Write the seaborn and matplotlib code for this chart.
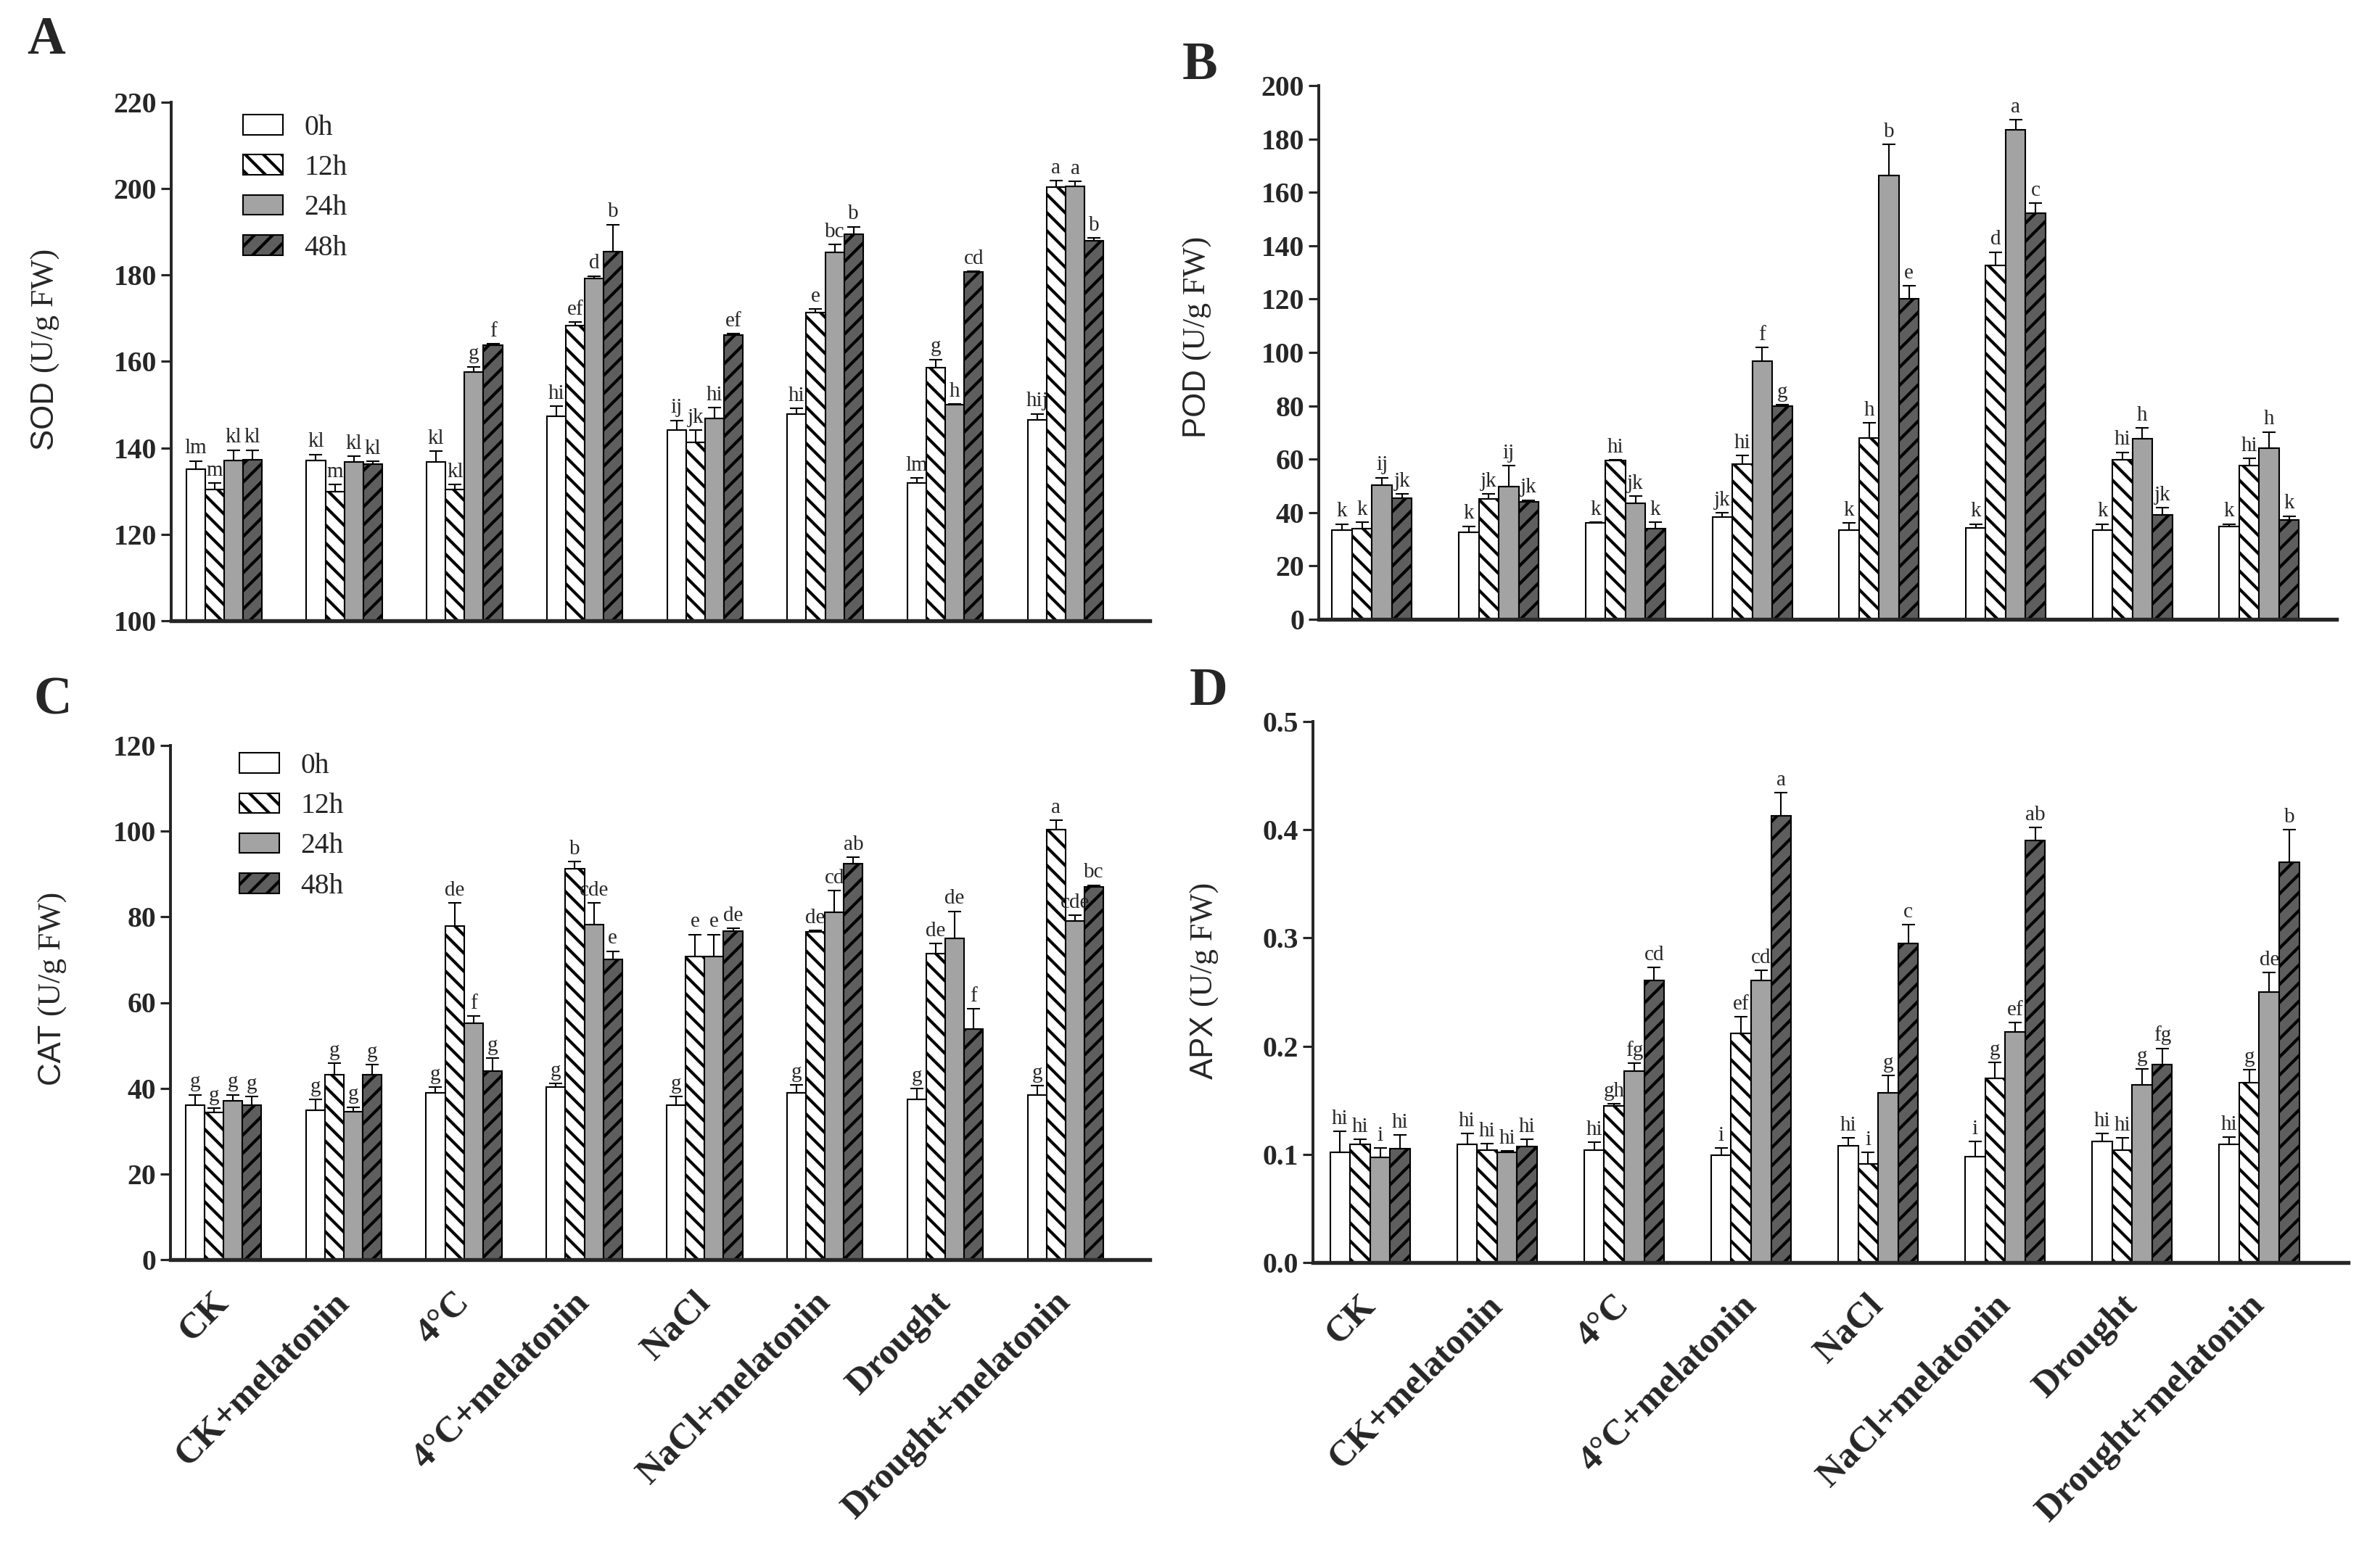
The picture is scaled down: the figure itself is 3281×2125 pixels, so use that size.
import numpy as np
import pandas as pd
import matplotlib
matplotlib.use("Agg")
import matplotlib.pyplot as plt
import matplotlib.text as mtext
import seaborn as sns
from matplotlib.patches import Patch
from matplotlib.ticker import FormatStrFormatter

# ---------------- data ----------------
groups = ["CK", "CK+melatonin", "4°C", "4°C+melatonin", "NaCl",
          "NaCl+melatonin", "Drought", "Drought+melatonin"]
times = ["0h", "12h", "24h", "48h"]

# SOD (U/g FW)
sod_0h = [135.0, 137.1, 136.7, 147.3, 144.1, 147.9, 131.9, 146.5]
sod_12h = [130.3, 129.8, 130.3, 168.3, 141.3, 171.4, 158.6, 200.3]
sod_24h = [137.1, 136.7, 157.6, 179.2, 146.9, 185.2, 150.0, 200.5]
sod_48h = [137.3, 136.2, 163.8, 185.5, 166.2, 189.5, 180.7, 187.9]
sod_err_0h = [2.0, 1.4, 2.6, 2.4, 2.3, 1.3, 1.1, 1.4]
sod_err_12h = [1.6, 1.8, 1.3, 0.8, 2.8, 0.8, 1.9, 1.6]
sod_err_24h = [2.4, 1.4, 1.2, 0.6, 2.4, 1.9, 0.2, 1.2]
sod_err_48h = [2.2, 0.7, 0.3, 6.2, 0.2, 1.7, 0.2, 0.7]
sod_let_0h = ["lm", "kl", "kl", "hi", "ij", "hi", "lm", "hij"]
sod_let_12h = ["m", "m", "kl", "ef", "jk", "e", "g", "a"]
sod_let_24h = ["kl", "kl", "g", "d", "hi", "bc", "h", "a"]
sod_let_48h = ["kl", "kl", "f", "b", "ef", "b", "cd", "b"]

# POD (U/g FW)
pod_0h = [33.4, 32.6, 36.2, 38.3, 33.4, 34.2, 33.4, 34.9]
pod_12h = [33.9, 45.2, 59.5, 58.2, 67.9, 132.7, 59.8, 57.5]
pod_24h = [50.3, 49.8, 43.4, 96.7, 166.4, 183.3, 67.6, 64.1]
pod_48h = [45.4, 44.1, 33.9, 79.8, 120.0, 152.2, 39.2, 37.2]
pod_err_0h = [2.3, 2.3, 0.3, 1.7, 2.8, 1.5, 2.3, 0.8]
pod_err_12h = [2.6, 1.7, 0.3, 3.1, 5.8, 4.9, 2.8, 2.8]
pod_err_24h = [2.8, 7.7, 2.8, 5.2, 11.5, 3.8, 4.1, 6.1]
pod_err_48h = [1.5, 0.6, 2.6, 0.5, 4.9, 3.8, 2.6, 1.5]
pod_let_0h = ["k", "k", "k", "jk", "k", "k", "k", "k"]
pod_let_12h = ["k", "jk", "hi", "hi", "h", "d", "hi", "hi"]
pod_let_24h = ["ij", "ij", "jk", "f", "b", "a", "h", "h"]
pod_let_48h = ["jk", "jk", "k", "g", "e", "c", "jk", "k"]

# CAT (U/g FW)
cat_0h = [36.1, 34.8, 38.9, 40.3, 36.1, 38.9, 37.4, 38.4]
cat_12h = [34.3, 43.1, 77.8, 91.2, 70.7, 76.5, 71.5, 100.4]
cat_24h = [37.0, 34.5, 55.1, 78.2, 70.7, 81.0, 74.9, 79.0]
cat_48h = [36.1, 43.1, 44.0, 70.1, 76.6, 92.4, 53.9, 87.0]
cat_err_0h = [2.4, 2.6, 1.3, 0.8, 1.9, 1.9, 2.5, 2.2]
cat_err_12h = [1.0, 2.7, 5.4, 1.7, 5.2, 0.3, 2.3, 2.1]
cat_err_24h = [1.5, 1.1, 1.7, 5.1, 5.2, 5.2, 6.4, 1.4]
cat_err_48h = [1.9, 2.4, 3.1, 1.9, 0.7, 1.5, 4.7, 0.4]
cat_let_0h = ["g", "g", "g", "g", "g", "g", "g", "g"]
cat_let_12h = ["g", "g", "de", "b", "e", "de", "de", "a"]
cat_let_24h = ["g", "g", "f", "cde", "e", "cd", "de", "cde"]
cat_let_48h = ["g", "g", "g", "e", "de", "ab", "f", "bc"]

# APX (U/g FW)
apx_0h = [0.102, 0.109, 0.104, 0.099, 0.108, 0.098, 0.112, 0.109]
apx_12h = [0.109, 0.104, 0.145, 0.212, 0.091, 0.170, 0.104, 0.166]
apx_24h = [0.097, 0.102, 0.177, 0.261, 0.157, 0.213, 0.164, 0.250]
apx_48h = [0.105, 0.107, 0.261, 0.413, 0.295, 0.390, 0.183, 0.370]
apx_err_0h = [0.019, 0.010, 0.007, 0.007, 0.007, 0.014, 0.007, 0.007]
apx_err_12h = [0.005, 0.006, 0.002, 0.015, 0.011, 0.015, 0.011, 0.012]
apx_err_24h = [0.009, 0.001, 0.007, 0.009, 0.016, 0.009, 0.015, 0.018]
apx_err_48h = [0.013, 0.007, 0.012, 0.021, 0.017, 0.012, 0.015, 0.030]
apx_let_0h = ["hi", "hi", "hi", "i", "hi", "i", "hi", "hi"]
apx_let_12h = ["hi", "hi", "gh", "ef", "i", "g", "hi", "g"]
apx_let_24h = ["i", "hi", "fg", "cd", "g", "ef", "g", "de"]
apx_let_48h = ["hi", "hi", "cd", "a", "c", "ab", "fg", "b"]

# ---------------- style ----------------
W, H, DPI = 3281, 2125, 150
sns.set_style("ticks")
SERIF = ["Liberation Serif", "DejaVu Serif"]
SANS = ["Liberation Sans", "DejaVu Sans"]
plt.rcParams["font.family"] = SERIF
plt.rcParams["hatch.linewidth"] = 2.0
plt.rcParams["hatch.color"] = "black"

palette = {"0h": "white", "12h": "white", "24h": "#a3a3a3", "48h": "#5e5e5e"}
hatches = {"0h": "", "12h": "\\\\", "24h": "", "48h": "//"}

fig = plt.figure(figsize=(W / DPI, H / DPI), dpi=DPI)


def px_axes(left, right, top, bottom):
    return fig.add_axes([left / W, 1 - bottom / H, (right - left) / W, (bottom - top) / H])


def mixed_ylabel(name, x_base_px, y_bottom_px):
    t1 = fig.text(x_base_px / W, 1 - y_bottom_px / H, name + " ", rotation=90,
                  rotation_mode="anchor", ha="left", va="baseline",
                  fontsize=21, family=SANS)
    fig.add_artist(mtext.Annotation(
        "(U/g FW)", xy=(x_base_px / W, 1.0), xycoords=("figure fraction", t1),
        rotation=90, rotation_mode="anchor", ha="left", va="baseline",
        fontsize=21, family=SERIF))


def panel(ax, vals, errs, lets, ylo, yhi, step, xlim, show_x=True,
          legend_xy=None, fmt=None):
    rows = []
    for t in times:
        for g, v in zip(groups, vals[t]):
            rows.append({"group": g, "time": t, "value": v})
    df = pd.DataFrame(rows)
    sns.barplot(data=df, x="group", y="value", hue="time", order=groups,
                hue_order=times, palette=palette, width=0.63, saturation=1,
                edgecolor="black", linewidth=1.0, errorbar=None, legend=False,
                ax=ax, zorder=2)
    for t, cont in zip(times, ax.containers):
        xs, ys = [], []
        for p in cont.patches:
            p.set_hatch(hatches[t])
            xs.append(p.get_x() + p.get_width() / 2)
            ys.append(p.get_y() + p.get_height())
        xs = np.array(xs)
        ys = np.array(ys)
        e = np.array(errs[t])
        ax.errorbar(xs, ys, yerr=[np.zeros_like(e), e], fmt="none",
                    ecolor="black", elinewidth=1.0, capsize=4.5, capthick=1.0,
                    zorder=3)
        for x, y, ee, lt in zip(xs, ys, e, lets[t]):
            ax.annotate(lt, (x, y + ee), xytext=(0, 2), textcoords="offset points",
                        ha="center", va="bottom", fontsize=14, family=SERIF)
    ax.set_xlim(*xlim)
    ax.set_ylim(ylo, yhi)
    ax.set_yticks(np.arange(ylo, yhi + step / 2, step))
    if fmt:
        ax.yaxis.set_major_formatter(FormatStrFormatter(fmt))
    for s in ["top", "right"]:
        ax.spines[s].set_visible(False)
    ax.spines["left"].set_linewidth(1.9)
    ax.spines["bottom"].set_linewidth(2.6)
    ax.spines["bottom"].set_zorder(4)
    ax.tick_params(axis="y", direction="out", length=6.5, width=1.5, labelsize=19, pad=3)
    ax.tick_params(axis="x", length=0, pad=25)
    ax.set_xticks(range(len(groups)))
    if show_x:
        ax.set_xticklabels(groups, rotation=45, ha="right", va="center",
                           rotation_mode="anchor", fontsize=24, fontweight="bold")
    else:
        ax.set_xticklabels([])
    plt.setp(ax.get_yticklabels(), fontweight="bold")
    ax.set_xlabel("")
    ax.set_ylabel("")
    if legend_xy is not None:
        handles = [Patch(facecolor=palette[t], edgecolor="black", hatch=hatches[t],
                         linewidth=1.0) for t in times]
        ax.legend(handles, times, loc="upper left",
                  bbox_to_anchor=(legend_xy[0] / W, 1 - legend_xy[1] / H),
                  bbox_transform=fig.transFigure, frameon=False,
                  prop={"family": SERIF, "size": 19}, handlelength=1.39,
                  handleheight=0.7, labelspacing=0.46, handletextpad=0.75,
                  borderpad=0, borderaxespad=0)


axA = px_axes(236, 1585, 141, 856)
axB = px_axes(1818, 3221, 118, 854)
axC = px_axes(235, 1585, 1028, 1737)
axD = px_axes(1810, 3237, 995, 1741)

panel(axA,
      {"0h": sod_0h, "12h": sod_12h, "24h": sod_24h, "48h": sod_48h},
      {"0h": sod_err_0h, "12h": sod_err_12h, "24h": sod_err_24h, "48h": sod_err_48h},
      {"0h": sod_let_0h, "12h": sod_let_12h, "24h": sod_let_24h, "48h": sod_let_48h},
      100, 220, 20, (-0.44, 7.70), show_x=False, legend_xy=(335, 158))
panel(axB,
      {"0h": pod_0h, "12h": pod_12h, "24h": pod_24h, "48h": pod_48h},
      {"0h": pod_err_0h, "12h": pod_err_12h, "24h": pod_err_24h, "48h": pod_err_48h},
      {"0h": pod_let_0h, "12h": pod_let_12h, "24h": pod_let_24h, "48h": pod_let_48h},
      0, 200, 20, (-0.42, 7.61), show_x=False)
panel(axC,
      {"0h": cat_0h, "12h": cat_12h, "24h": cat_24h, "48h": cat_48h},
      {"0h": cat_err_0h, "12h": cat_err_12h, "24h": cat_err_24h, "48h": cat_err_48h},
      {"0h": cat_let_0h, "12h": cat_let_12h, "24h": cat_let_24h, "48h": cat_let_48h},
      0, 120, 20, (-0.44, 7.70), legend_xy=(330, 1038))
panel(axD,
      {"0h": apx_0h, "12h": apx_12h, "24h": apx_24h, "48h": apx_48h},
      {"0h": apx_err_0h, "12h": apx_err_12h, "24h": apx_err_24h, "48h": apx_err_48h},
      {"0h": apx_let_0h, "12h": apx_let_12h, "24h": apx_let_24h, "48h": apx_let_48h},
      0.0, 0.5, 0.1, (-0.45, 7.70), fmt="%.1f")

mixed_ylabel("SOD", 74, 621)
mixed_ylabel("POD", 1662, 604)
mixed_ylabel("CAT", 84, 1497)
mixed_ylabel("APX", 1672, 1488)

for letter, x, y in [("A", 37, 22), ("B", 1630, 57), ("C", 47, 932), ("D", 1640, 920)]:
    fig.text(x / W, 1 - y / H, letter, fontsize=35, fontweight="bold",
             family=SERIF, ha="left", va="top")

fig.savefig("out.png", dpi=DPI)
